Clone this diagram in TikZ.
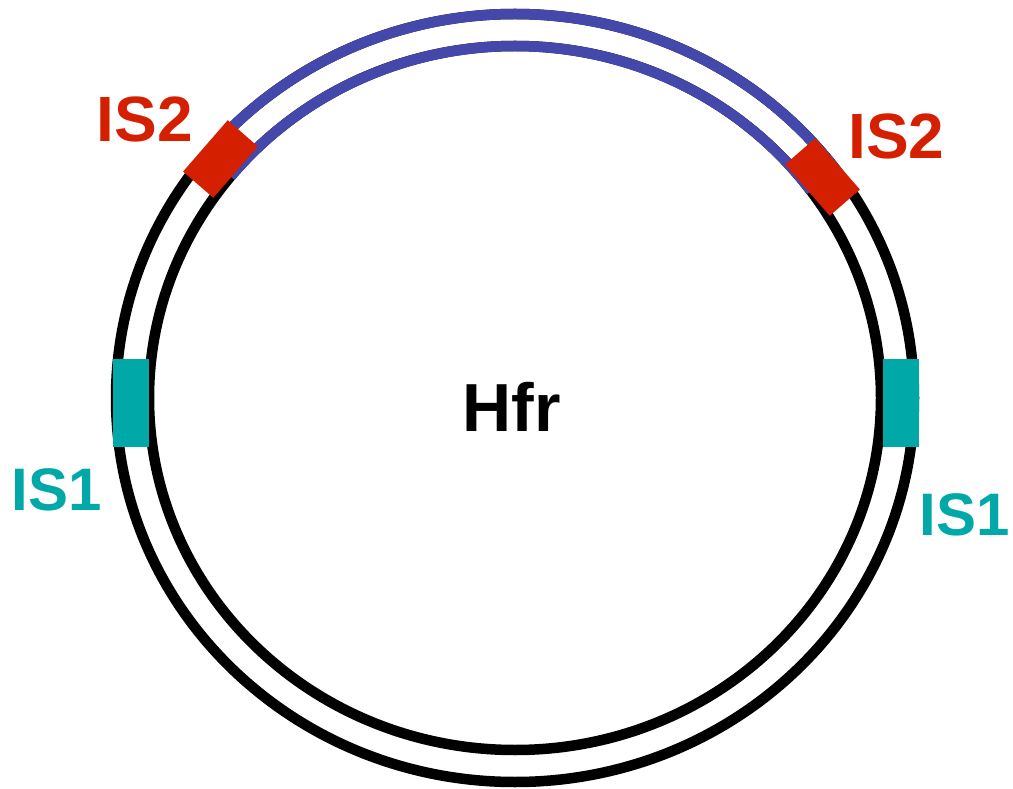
\documentclass[tikz,border=0pt]{standalone}
\usepackage{fontspec}
\setmainfont{Liberation Sans}
\definecolor{isred}{RGB}{212,32,0}
\definecolor{isblue}{RGB}{68,72,170}
\definecolor{isteal}{RGB}{0,168,168}
\tikzset{
  ringline/.style={line width=10.5pt},
  redbox/.style={fill=isred, draw=none, inner sep=0pt, minimum width=68pt, minimum height=40pt},
  tealbox/.style={fill=isteal, draw=none, inner sep=0pt, minimum width=36pt, minimum height=88pt},
  lbl/.style={font=\bfseries\fontsize{64}{64}\selectfont, inner sep=0pt, anchor=base}
}
\begin{document}
\begin{tikzpicture}[x=1pt,y=-1pt]
\useasboundingbox (0,0) rectangle (1013,789);
\coordinate (c) at (515,398);
% black rings
\draw[ringline,black] (c) ellipse [x radius=399, y radius=384];
\draw[ringline,black] (c) ellipse [x radius=366, y radius=352];
% blue arcs (upper part)
\draw[ringline,isblue] (c) ++(-36:399 and 384) arc[start angle=-36, end angle=-141, x radius=399, y radius=384];
\draw[ringline,isblue] (c) ++(-36:366 and 352) arc[start angle=-36, end angle=-141, x radius=366, y radius=352];
% IS2 boxes
\node[redbox, rotate=49] (is2l) at (220.5,159) {};
\node[redbox, rotate=-49] (is2r) at (822.5,177) {};
% IS1 boxes
\node[tealbox] (is1l) at (130.5,403) {};
\node[tealbox] (is1r) at (900.5,403) {};
% labels
\node[lbl, text=isred] (t2l) at (145,142) {IS2};
\node[lbl, text=isred] (t2r) at (896.5,159) {IS2};
\node[lbl, text=isteal, font=\bfseries\fontsize{60}{60}\selectfont] (t1l) at (56.5,510) {IS1};
\node[lbl, text=isteal, font=\bfseries\fontsize{60}{60}\selectfont] (t1r) at (965,535) {IS1};
\node[lbl, text=black, font=\bfseries\fontsize{68}{68}\selectfont] (hfr) at (512,431) {Hfr};
\end{tikzpicture}
\end{document}
